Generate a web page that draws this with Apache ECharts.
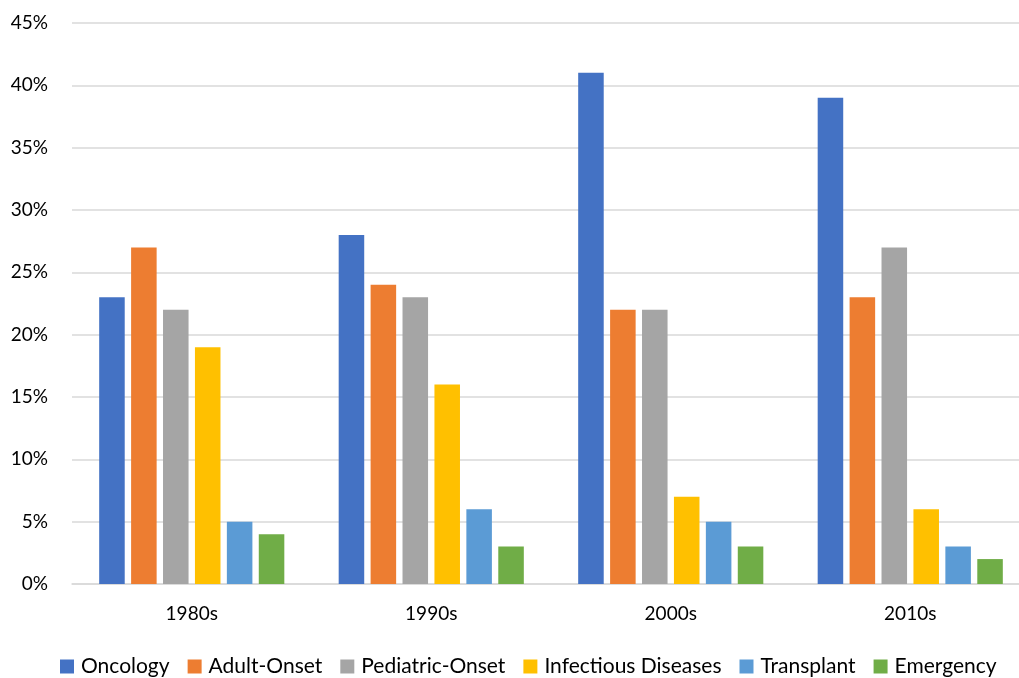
<!DOCTYPE html>
<html>
<head>
<meta charset="utf-8">
<script src="https://cdn.jsdelivr.net/npm/echarts@6/dist/echarts.min.js"></script>
<style>
  html, body { margin: 0; padding: 0; background: #fff; overflow: hidden; }
  /* drawing surface runs slightly past the right edge of the window */
  #chart { width: 1030px; height: 678px; }
</style>
</head>
<body>
<div id="chart"></div>
<script>
// Share of cases by specialty, per decade (percent)
const decades = ['1980s', '1990s', '2000s', '2010s'];
const oncology = [23, 28, 41, 39];
const adultOnset = [27, 24, 22, 23];
const pediatricOnset = [22, 23, 22, 27];
const infectiousDiseases = [19, 16, 7, 6];
const transplant = [5, 6, 5, 3];
const emergency = [4, 3, 3, 2];

const seriesNames = ['Oncology', 'Adult-Onset', 'Pediatric-Onset', 'Infectious Diseases', 'Transplant', 'Emergency'];
const seriesValues = [oncology, adultOnset, pediatricOnset, infectiousDiseases, transplant, emergency];
const colors = ['#4472C4', '#ED7D31', '#A5A5A5', '#FFC000', '#5B9BD5', '#70AD47'];

const font = 'Lato, Open Sans, sans-serif';
const chart = echarts.init(document.getElementById('chart'), null, { renderer: 'canvas' });

chart.setOption({
  animation: false,
  color: colors,
  textStyle: { fontFamily: font },
  grid: { left: 72, top: 23, right: 0, bottom: 94, containLabel: false },
  legend: {
    top: 656,
    left: 60,
    padding: 0,
    itemWidth: 14,
    itemHeight: 14,
    itemGap: 18,
    icon: 'rect',
    textStyle: { fontSize: 21, color: '#000', fontFamily: font, padding: [0, 0, 0, 2] },
    data: seriesNames
  },
  xAxis: {
    type: 'category',
    data: decades,
    axisLine: { show: true, lineStyle: { color: '#d9d9d9', width: 1.5 } },
    axisTick: { show: false },
    axisLabel: { fontSize: 19, color: '#000', margin: 20, fontFamily: font }
  },
  yAxis: {
    type: 'value',
    min: 0,
    max: 45,
    interval: 5,
    axisLine: { show: false },
    axisTick: { show: false },
    splitLine: { lineStyle: { color: '#d9d9d9', width: 1.5 } },
    axisLabel: { formatter: '{value}%', fontSize: 19, color: '#000', margin: 24, fontFamily: font }
  },
  series: seriesNames.map((name, i) => ({
    name: name,
    type: 'bar',
    data: seriesValues[i],
    barGap: '25%',
    barCategoryGap: '22.7%'
  }))
});
</script>
</body>
</html>
